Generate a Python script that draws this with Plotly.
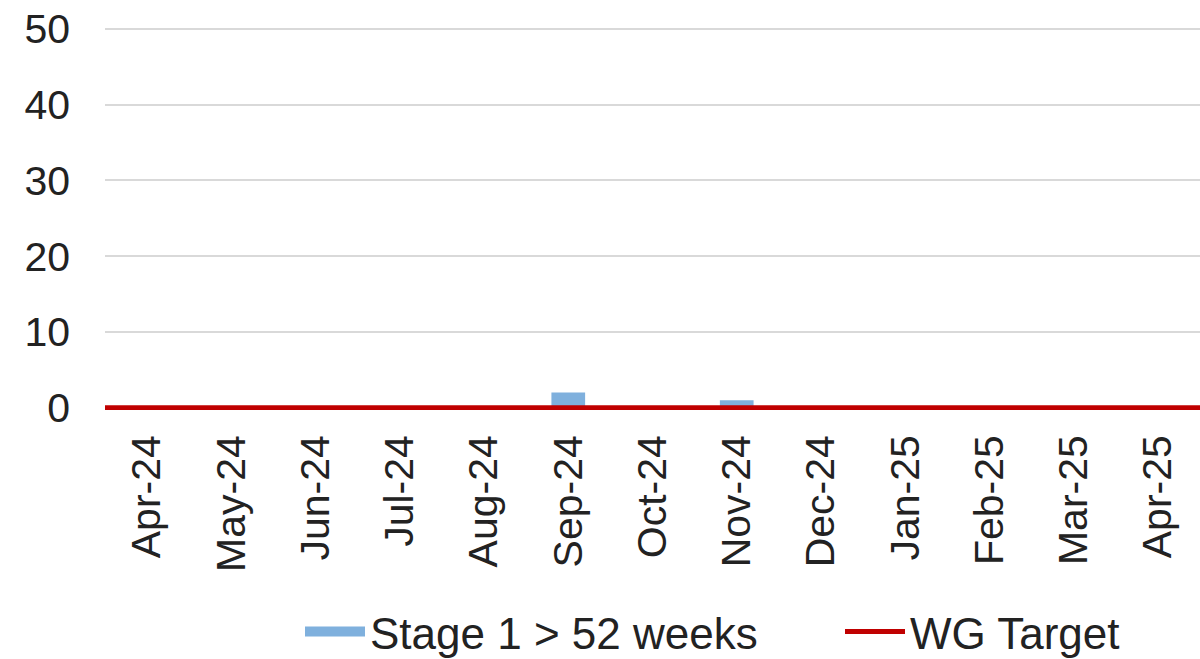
import plotly.graph_objects as go

months = ["Apr-24", "May-24", "Jun-24", "Jul-24", "Aug-24", "Sep-24", "Oct-24",
          "Nov-24", "Dec-24", "Jan-25", "Feb-25", "Mar-25", "Apr-25"]
stage1_over_52 = [0, 0, 0, 0, 0, 2, 0, 1, 0, 0, 0, 0, 0]
wg_target = [0] * len(months)

BAR_BLUE = "#7fb0dd"
TARGET_RED = "#c00000"
FONT = "Liberation Sans, Arial, sans-serif"

fig = go.Figure()

fig.add_trace(go.Bar(
    x=months, y=stage1_over_52, name="Stage 1 > 52 weeks",
    marker=dict(color=BAR_BLUE, line=dict(width=0)),
    showlegend=False,
))
# wide swatch for the bar series in the legend
fig.add_trace(go.Scatter(
    x=[None], y=[None], mode="lines", name="Stage 1 > 52 weeks",
    line=dict(color=BAR_BLUE, width=16),
))
# target line spans the full plot width on an overlaid category axis
fig.add_trace(go.Scatter(
    x=months, y=wg_target, mode="lines", name="WG Target",
    line=dict(color=TARGET_RED, width=5), xaxis="x2",
))

fig.update_layout(
    width=1200, height=659,
    margin=dict(l=105, r=0, t=27, b=249),
    paper_bgcolor="white", plot_bgcolor="white",
    font=dict(family=FONT, size=40, color="#222222"),
    bargap=0.6,
    xaxis=dict(
        type="category", categoryorder="array", categoryarray=months,
        range=[-0.5, 12.5], tickangle=-90, showgrid=False, zeroline=False,
        showline=False, ticks="", ticklabelstandoff=16,
        tickfont=dict(size=41),
    ),
    xaxis2=dict(
        type="category", categoryorder="array", categoryarray=months,
        range=[0, 12], overlaying="x", visible=False,
    ),
    yaxis=dict(
        range=[-0.3, 50.25], tickvals=[0, 10, 20, 30, 40, 50],
        showgrid=True, gridcolor="#d9d9d9",
        gridwidth=2, zeroline=False, showline=False, ticks="",
        ticklabelstandoff=34, tickfont=dict(size=41),
    ),
    legend=dict(
        orientation="h", xref="container", yref="container",
        x=0.25, xanchor="left", y=0.041, yanchor="middle",
        font=dict(size=44), itemwidth=60, entrywidth=465,
        traceorder="normal",
    ),
)

fig.write_html("out.html")
